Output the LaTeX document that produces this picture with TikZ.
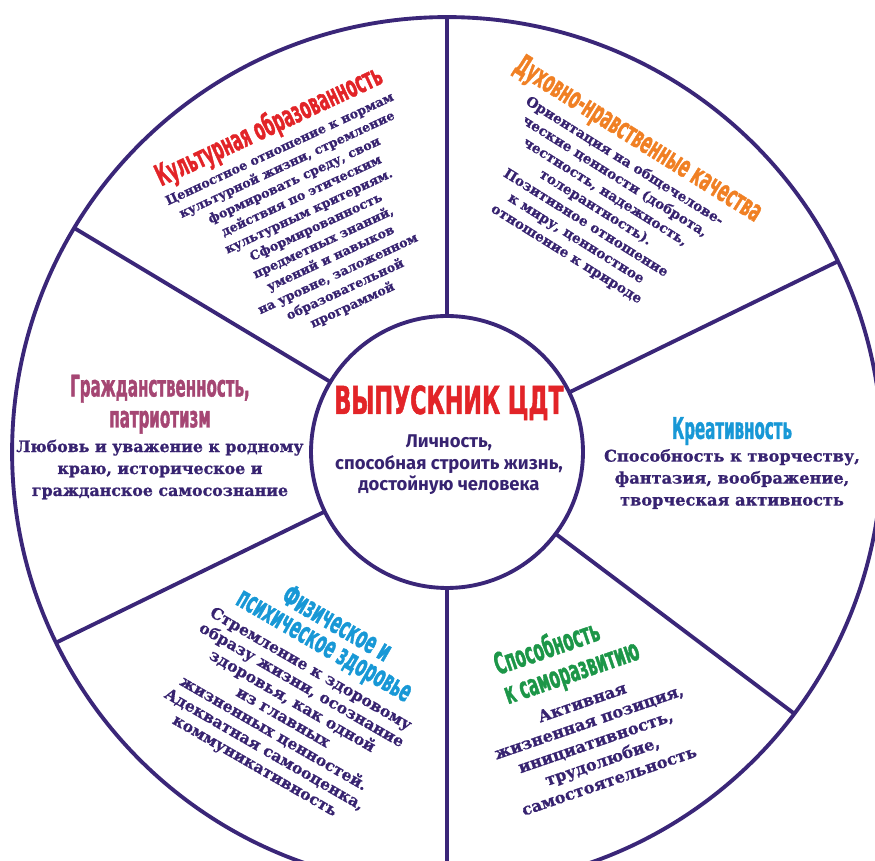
\documentclass[tikz,border=0pt]{standalone}
\usepackage{fontspec}
\newfontfamily\hubfont{DejaVu Sans Condensed Bold}[FakeStretch=0.64,FakeBold=1.2]
\newfontfamily\headfont{DejaVu Sans Condensed Bold}[FakeStretch=0.56,FakeBold=1.2]
\newfontfamily\bodyfont{DejaVu Serif Bold}[FakeBold=1]
\newfontfamily\subfont{Fira Sans}
\definecolor{lineC}{RGB}{58,38,120}
\definecolor{textC}{RGB}{55,35,112}
\definecolor{redC}{RGB}{226,36,40}
\definecolor{orangeC}{RGB}{240,128,36}
\definecolor{mauveC}{RGB}{165,70,115}
\definecolor{cyanC}{RGB}{24,152,214}
\definecolor{greenC}{RGB}{28,150,72}
\newcommand{\heading}[2]{{\headfont\fontsize{17}{17.6}\selectfont\color{#1}#2}}
\lineskiplimit=-50pt

\begin{document}
\begin{tikzpicture}[x=0.02cm,y=0.02cm]
        \tikzstyle{rim}=[circle,draw=lineC,line width=2.2pt,minimum size=17.4cm,inner sep=0pt,outer sep=0pt]
        \tikzstyle{hub}=[circle,draw=lineC,line width=2.2pt,minimum size=5.44cm,inner sep=0pt,outer sep=0pt]
        \tikzstyle{spoke}=[draw=lineC,line width=2.2pt]
        \tikzstyle{sector}=[align=center,text=textC,inner sep=0pt]

        \clip (-447,-409) rectangle (428,452);

        % wheel
        \node [rim] (rim) at (0,0) {};
        \node [hub] (hub) at (0,0) {};
        \foreach \a in {90,26,-37,-90,-154,149}
            \path[spoke] (hub.\a) -- (rim.\a);

        % centre
        \node [sector, font=\subfont\bfseries\fontsize{10.5}{12.2}\selectfont] (grad) at (2,12)
            {{\hubfont\fontsize{22}{24}\selectfont\color{redC}ВЫПУСКНИК ЦДТ}\\[7pt]
             Личность,\\ способная строить жизнь,\\ достойную человека};

        % sectors
        \node [sector, rotate=25, font=\bodyfont\fontsize{7.2}{9.8}\selectfont] (culture) at (-138,240)
            {\heading{redC}{Культурная образованность}\\[1.6pt]
             Ценностное отношение к нормам\\ культурной жизни, стремление\\ формировать среду, свои\\
             действия по этическим\\ культурным критериям.\\ Сформированность\\ предметных знаний,\\
             умений и навыков\\ на уровне, заложенном\\ образовательной\\ программой};

        \node [sector, rotate=-32, font=\bodyfont\fontsize{7.8}{10.4}\selectfont] (spirit) at (157,258)
            {\heading{orangeC}{Духовно-нравственные качества}\\[1.6pt]
             Ориентация на общечелове-\\ ческие ценности (доброта,\\ честность, надежность,\\
             толерантность).\\ Позитивное отношение\\ к миру, ценностное\\ отношение к природе};

        \node [sector, font=\bodyfont\fontsize{9}{12.5}\selectfont] (civic) at (-287,15)
            {\heading{mauveC}{Гражданственность,}\\[5.1pt] \heading{mauveC}{патриотизм}\\[1.5pt]
             Любовь и уважение к родному\\ краю, историческое и\\ гражданское самосознание};

        \node [sector, font=\bodyfont\fontsize{9.2}{12.5}\selectfont] (creative) at (285,-11)
            {\heading{cyanC}{Креативность}\\[0.5pt]
             Способность к творчеству,\\ фантазия, воображение,\\ творческая активность};

        \node [sector, rotate=-30, font=\bodyfont\fontsize{8.9}{10.6}\selectfont] (health) at (-150,-241)
            {\heading{cyanC}{Физическое и}\\[3.4pt] \heading{cyanC}{психическое здоровье}\\[2.4pt]
             Стремление к здоровому\\ образу жизни, осознание\\ здоровья, как одной\\ из главных\\
             жизненных ценностей.\\ Адекватная самооценка,\\ коммуникативность};

        \node [sector, rotate=19, font=\bodyfont\fontsize{9.2}{11.8}\selectfont] (growth) at (137,-256)
            {\heading{greenC}{\lineskiplimit=0pt\begin{tabular}[b]{@{}l@{}}Способность\\ к саморазвитию\end{tabular}}\\[4pt]
             Активная\\ жизненная позиция,\\ инициативность,\\ трудолюбие,\\ самостоятельность};
\end{tikzpicture}
\end{document}
